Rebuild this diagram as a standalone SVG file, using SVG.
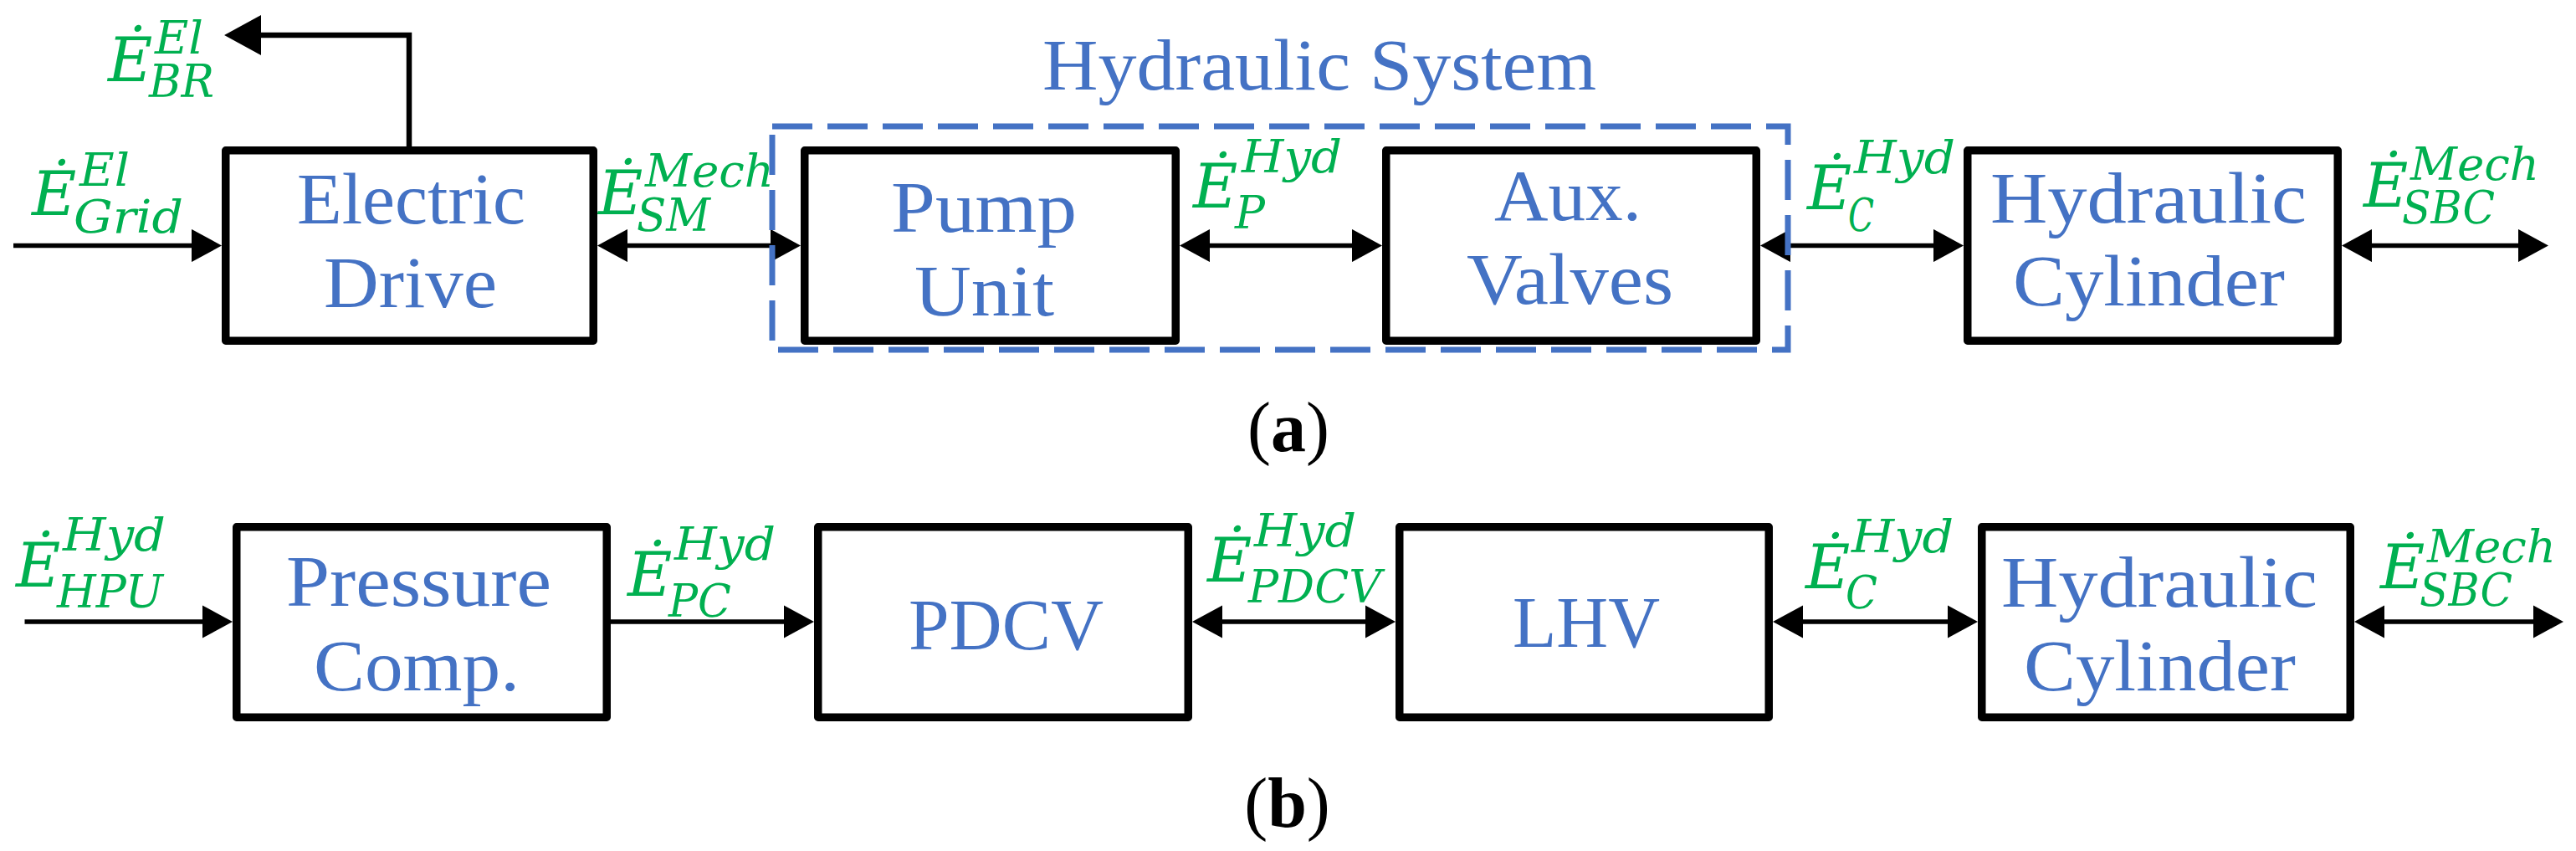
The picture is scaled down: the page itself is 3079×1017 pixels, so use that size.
<svg xmlns="http://www.w3.org/2000/svg" width="3079" height="1017" viewBox="0 0 3079 1017">
<style>
.box{fill:#fff;stroke:#000;stroke-width:9.5;stroke-linejoin:round}
.nl{font-family:"Liberation Serif","Times New Roman",serif;font-size:86px;fill:#4472C4;text-anchor:middle}
.con{fill:none;stroke:#000;stroke-width:5.3}
.E{font-family:"DejaVu Serif",serif;font-style:italic;font-size:73px;fill:#00B050}
.s{font-family:"DejaVu Serif",serif;font-style:italic;font-size:55px;fill:#00B050}
.cap{font-family:"Liberation Serif","Times New Roman",serif;font-size:84px;fill:#000;text-anchor:middle}
.dash{fill:none;stroke:#4472C4;stroke-width:7;stroke-dasharray:48 18}
</style>
<defs>
<marker id="ah" viewBox="0 0 68 74" markerWidth="6.8" markerHeight="7.4" refX="56.7" refY="37" orient="auto-start-reverse" markerUnits="strokeWidth">
<path d="M0,0 L68,37 L0,74 Z" fill="#000"/>
</marker>
</defs>
<rect width="3079" height="1017" fill="#fff"/>

<g id="connectors">
<line class="con" x1="16" y1="293.5" x2="259" y2="293.5" marker-end="url(#ah)"/>
<line class="con" x1="720" y1="293.5" x2="951" y2="293.5" marker-start="url(#ah)" marker-end="url(#ah)"/>
<line class="con" x1="1416" y1="293.5" x2="1646" y2="293.5" marker-start="url(#ah)" marker-end="url(#ah)"/>
<line class="con" x1="2110" y1="293.5" x2="2341" y2="293.5" marker-start="url(#ah)" marker-end="url(#ah)"/>
<line class="con" x1="2805" y1="293.5" x2="3040" y2="293.5" marker-start="url(#ah)" marker-end="url(#ah)"/>
<path class="con" style="stroke-width:6.5" d="M489,180 V42 H275.4" marker-end="url(#ah)"/>
<line class="con" x1="29.5" y1="743" x2="272" y2="743" marker-end="url(#ah)"/>
<line class="con" x1="730" y1="743" x2="967" y2="743" marker-end="url(#ah)"/>
<line class="con" x1="1431" y1="743" x2="1662" y2="743" marker-start="url(#ah)" marker-end="url(#ah)"/>
<line class="con" x1="2125" y1="743" x2="2358" y2="743" marker-start="url(#ah)" marker-end="url(#ah)"/>
<line class="con" x1="2820" y1="743" x2="3058" y2="743" marker-start="url(#ah)" marker-end="url(#ah)"/>
</g>

<g id="electric-drive">
<rect class="box" x="269.75" y="179.75" width="439.5" height="227.5"/>
<text class="nl" x="491.5" y="267" textLength="273" lengthAdjust="spacingAndGlyphs">Electric</text>
<text class="nl" x="490.5" y="367" textLength="207" lengthAdjust="spacingAndGlyphs">Drive</text>
</g>
<g id="pump-unit">
<rect class="box" x="961.75" y="179.75" width="443.5" height="227.5"/>
<text class="nl" x="1176" y="277" textLength="222" lengthAdjust="spacingAndGlyphs">Pump</text>
<text class="nl" x="1176.5" y="377" textLength="167" lengthAdjust="spacingAndGlyphs">Unit</text>
</g>
<g id="aux-valves">
<rect class="box" x="1656.75" y="179.75" width="442.5" height="227.5"/>
<text class="nl" x="1874" y="263" textLength="176" lengthAdjust="spacingAndGlyphs">Aux.</text>
<text class="nl" x="1876.5" y="363" textLength="247" lengthAdjust="spacingAndGlyphs">Valves</text>
</g>
<g id="hydraulic-cylinder-a">
<rect class="box" x="2351.75" y="179.75" width="442.5" height="227.5"/>
<text class="nl" x="2568" y="266" textLength="378" lengthAdjust="spacingAndGlyphs">Hydraulic</text>
<text class="nl" x="2568.5" y="365" textLength="325" lengthAdjust="spacingAndGlyphs">Cylinder</text>
</g>

<g id="pressure-comp">
<rect class="box" x="282.75" y="629.75" width="442.5" height="227.5"/>
<text class="nl" x="500.5" y="724" textLength="317" lengthAdjust="spacingAndGlyphs">Pressure</text>
<text class="nl" x="498" y="825" textLength="246" lengthAdjust="spacingAndGlyphs">Comp.</text>
</g>
<g id="pdcv">
<rect class="box" x="977.75" y="629.75" width="442.5" height="227.5"/>
<text class="nl" x="1202.5" y="776" textLength="233" lengthAdjust="spacingAndGlyphs">PDCV</text>
</g>
<g id="lhv">
<rect class="box" x="1672.75" y="629.75" width="441.5" height="227.5"/>
<text class="nl" x="1896" y="773" textLength="176" lengthAdjust="spacingAndGlyphs">LHV</text>
</g>
<g id="hydraulic-cylinder-b">
<rect class="box" x="2368.75" y="629.75" width="440.5" height="227.5"/>
<text class="nl" x="2581" y="725" textLength="378" lengthAdjust="spacingAndGlyphs">Hydraulic</text>
<text class="nl" x="2581.5" y="825" textLength="325" lengthAdjust="spacingAndGlyphs">Cylinder</text>
</g>

<g id="hydraulic-system">
<rect class="dash" x="923" y="151" width="1214" height="267"/>
<text class="nl" x="1577" y="107" textLength="662" lengthAdjust="spacingAndGlyphs">Hydraulic System</text>
</g>

<g id="labels">
<g id="l-br"><text class="E" x="129" y="97">Ė</text><text class="s" x="185" y="64" textLength="58" lengthAdjust="spacingAndGlyphs">El</text><text class="s" x="178" y="116" textLength="78" lengthAdjust="spacingAndGlyphs">BR</text></g>
<g id="l-grid"><text class="E" x="38" y="257">Ė</text><text class="s" x="95" y="222" textLength="60" lengthAdjust="spacingAndGlyphs">El</text><text class="s" x="88" y="278" textLength="131" lengthAdjust="spacingAndGlyphs">Grid</text></g>
<g id="l-sm"><text class="E" x="715" y="256">Ė</text><text class="s" x="771" y="223" textLength="154" lengthAdjust="spacingAndGlyphs">Mech</text><text class="s" x="761" y="276" textLength="88" lengthAdjust="spacingAndGlyphs">SM</text></g>
<g id="l-p"><text class="E" x="1426" y="248">Ė</text><text class="s" x="1484" y="206" textLength="120" lengthAdjust="spacingAndGlyphs">Hyd</text><text class="s" x="1476" y="273" textLength="36" lengthAdjust="spacingAndGlyphs">P</text></g>
<g id="l-c-a"><text class="E" x="2160" y="250">Ė</text><text class="s" x="2216" y="207" textLength="121" lengthAdjust="spacingAndGlyphs">Hyd</text><text class="s" x="2209" y="276" textLength="31" lengthAdjust="spacingAndGlyphs">C</text></g>
<g id="l-sbc-a"><text class="E" x="2825" y="247">Ė</text><text class="s" x="2881" y="215" textLength="154" lengthAdjust="spacingAndGlyphs">Mech</text><text class="s" x="2871" y="267" textLength="111" lengthAdjust="spacingAndGlyphs">SBC</text></g>
<g id="l-hpu"><text class="E" x="19" y="701">Ė</text><text class="s" x="75" y="658" textLength="123" lengthAdjust="spacingAndGlyphs">Hyd</text><text class="s" x="68" y="726" textLength="127" lengthAdjust="spacingAndGlyphs">HPU</text></g>
<g id="l-pc"><text class="E" x="750" y="712">Ė</text><text class="s" x="806" y="669" textLength="121" lengthAdjust="spacingAndGlyphs">Hyd</text><text class="s" x="799" y="737" textLength="75" lengthAdjust="spacingAndGlyphs">PC</text></g>
<g id="l-pdcv"><text class="E" x="1443" y="695">Ė</text><text class="s" x="1499" y="653" textLength="122" lengthAdjust="spacingAndGlyphs">Hyd</text><text class="s" x="1492" y="720" textLength="159" lengthAdjust="spacingAndGlyphs">PDCV</text></g>
<g id="l-c-b"><text class="E" x="2158" y="703">Ė</text><text class="s" x="2213" y="660" textLength="122" lengthAdjust="spacingAndGlyphs">Hyd</text><text class="s" x="2206" y="727" textLength="38" lengthAdjust="spacingAndGlyphs">C</text></g>
<g id="l-sbc-b"><text class="E" x="2845" y="703">Ė</text><text class="s" x="2901" y="672" textLength="154" lengthAdjust="spacingAndGlyphs">Mech</text><text class="s" x="2892" y="724" textLength="111" lengthAdjust="spacingAndGlyphs">SBC</text></g>
</g>

<g id="captions">
<text class="cap" x="1540" y="539">(<tspan font-weight="bold">a</tspan>)</text>
<text class="cap" x="1538.5" y="988">(<tspan font-weight="bold">b</tspan>)</text>
</g>
</svg>
